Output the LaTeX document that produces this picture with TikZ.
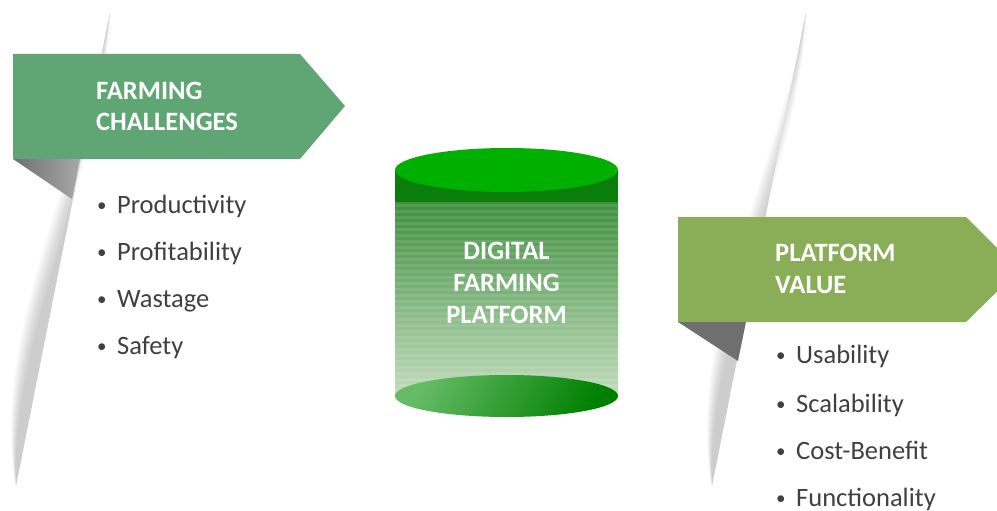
\documentclass[tikz,border=0pt]{standalone}
\usepackage{fontspec}
\setmainfont{Carlito}
\usetikzlibrary{calc}
\definecolor{bannerA}{HTML}{60A574}
\definecolor{bannerB}{HTML}{89AE57}
\definecolor{foldgray}{HTML}{6F6F6F}
\definecolor{bullettext}{HTML}{404040}
\definecolor{cyltop}{HTML}{00B000}
\definecolor{cylband}{HTML}{0A7D0A}
\definecolor{cylbodytop}{HTML}{3F8F3F}
\definecolor{cylbodybot}{HTML}{C3DCBD}
\definecolor{cylbotL}{HTML}{66BB66}
\definecolor{cylbotR}{HTML}{008000}
\tikzset{
  head/.style={text=white, font=\fontsize{26.5}{32}\selectfont\bfseries, align=left, inner sep=0pt, anchor=base west},
  item/.style={text=bullettext, font=\fontsize{26.5}{30}\selectfont, inner sep=0pt, anchor=base west},
  streakpart/.style={fill=black, opacity=0.016}
}
\newcommand{\bul}{\makebox[21pt][l]{\hspace{1pt}\raisebox{2pt}{\fontsize{19}{19}\selectfont\textbullet}}}
\begin{document}
\begin{tikzpicture}[x=1pt,y=-1pt]
\useasboundingbox (0,0) rectangle (997,511);
% streaks (layered translucent lenses: darker at the right edge, fading to the left)
\foreach \k in {1,...,14} {
  \pgfmathsetmacro{\bx}{-24*\k/14}
  \fill[streakpart] (110,12) -- (16,486) .. controls ($(16,486)+(\bx-4,-150)$) and ($(110,12)+(\bx-2,150)$) .. (110,12) -- cycle;
  \fill[streakpart] (806,12) -- (712,486) .. controls ($(712,486)+(\bx-4,-150)$) and ($(806,12)+(\bx-2,150)$) .. (806,12) -- cycle;
}
% left banner
\fill[bannerA] (13,54) -- (300,54) -- (345,106) -- (300,159) -- (13,159) -- cycle;
\shade[left color=foldgray, right color=foldgray!60] (13,159) -- (80,159) -- (72,199) -- cycle;
\node[head] (h1) at (96,131) {FARMING\\CHALLENGES};
% left items
\node[item] (l1) at (96,213) {\bul Productivity};
\node[item] (l2) at (96,260) {\bul Profitability};
\node[item] (l3) at (96,307) {\bul Wastage};
\node[item] (l4) at (96,354) {\bul Safety};
% right banner
\fill[bannerB] (678,217) -- (966,217) -- (1019,270) -- (966,322) -- (678,322) -- cycle;
\fill[foldgray] (678,322) -- (746,322) -- (738,361) -- cycle;
\node[head] (h2) at (775,293) {PLATFORM\\VALUE};
\node[item] (r1) at (775,363) {\bul Usability};
\node[item] (r2) at (775,412) {\bul Scalability};
\node[item] (r3) at (775,459) {\bul Cost-Benefit};
\node[item] (r4) at (775,506) {\bul Functionality};
% cylinder
\shade[top color=cylbodytop, bottom color=cylbodybot] (395,202) rectangle (618,396);
\foreach \yy in {204,210,...,392} {
  \fill[white, opacity=0.10] (395,\yy) rectangle (618,\yy+3);
}
\fill[cylband] (395,170) rectangle (618,202);
\shade[left color=cylbotL, right color=cylbotR, shading angle=60] (506.5,396) ellipse [x radius=111.5, y radius=21];
\fill[cyltop] (506.5,170) ellipse [x radius=111.5, y radius=22];
\node[head, align=center, anchor=base] (c) at (506.5,323) {DIGITAL\\FARMING\\PLATFORM};
\end{tikzpicture}
\end{document}
